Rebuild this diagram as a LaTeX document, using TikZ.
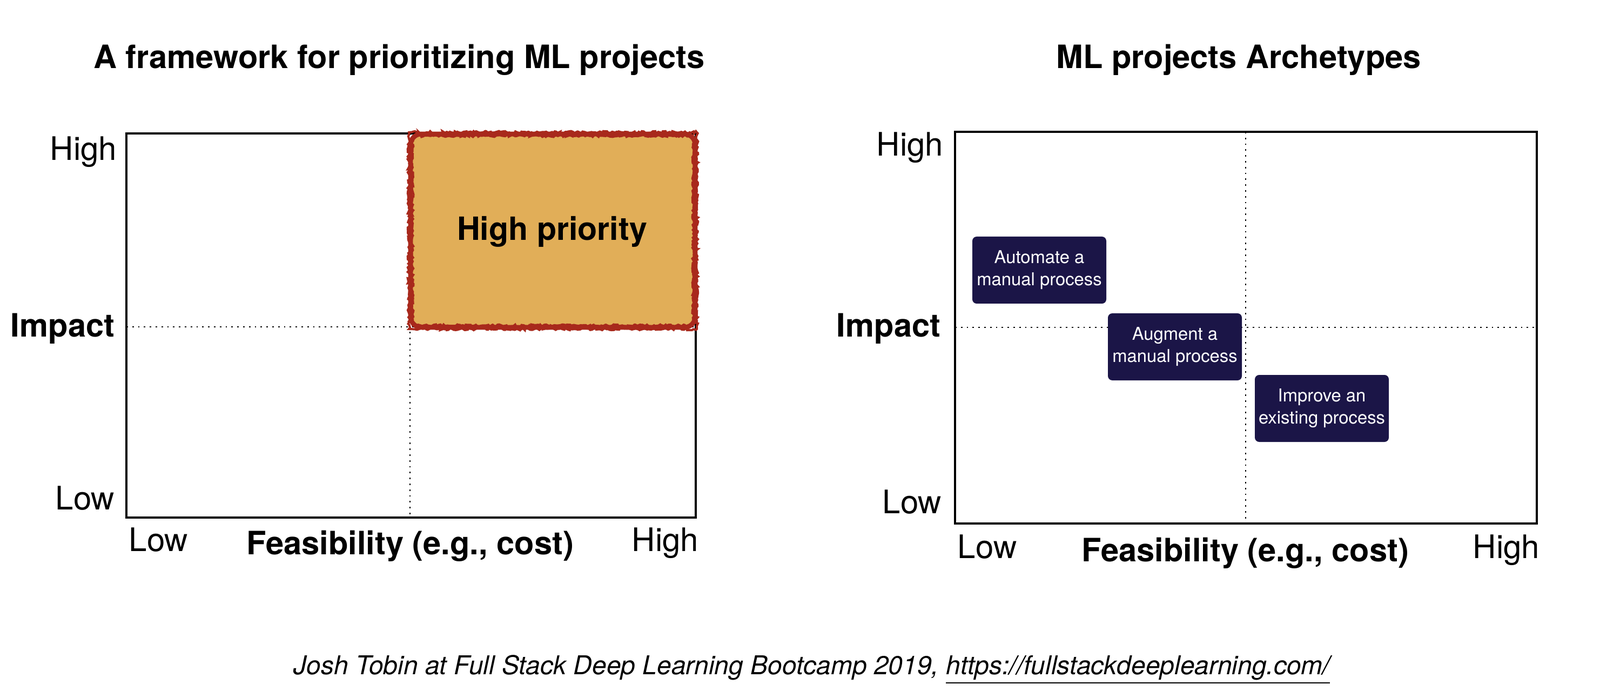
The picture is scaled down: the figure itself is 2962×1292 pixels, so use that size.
\documentclass[tikz,border=0pt]{standalone}
\usepackage{fontspec}
\setmainfont{TeX Gyre Heros}
\usetikzlibrary{decorations.pathmorphing}
\definecolor{prioFill}{HTML}{E1AE58}
\definecolor{prioEdge}{HTML}{A8291C}
\definecolor{archNavy}{HTML}{1B1547}

\begin{document}
\begin{tikzpicture}[x=0.25pt, y=0.25pt, yscale=-1, xscale=1,
  frame/.style={line width=0.8pt},
  split/.style={line width=0.7pt, dotted},
  ttl/.style={font=\bfseries\fontsize{14.9}{17}\selectfont, inner sep=0pt},
  tick/.style={font=\fontsize{15}{17}\selectfont, inner sep=0pt},
  axlab/.style={font=\bfseries\fontsize{14.9}{17}\selectfont, inner sep=0pt},
  archbox/.style={fill=archNavy, rounded corners=2pt, text=white, align=center,
    font=\fontsize{8.2}{10.2}\selectfont, minimum width=62pt, minimum height=31pt, inner sep=0pt}]
\useasboundingbox (0,0) rectangle (2962,1292);

%Left chart
\draw [frame] (234,247) rectangle (1288,958);
\draw [split] (234,605) -- (1288,605);
\draw [split] (759,247) -- (759,958);
\fill [prioFill, rounded corners=5pt] (759,247) rectangle (1288,607);
\draw [prioEdge, line width=2.2pt, rounded corners=5pt] (760,248) rectangle (1287,606);
\draw [prioEdge, line width=1pt, decorate, decoration={random steps, segment length=0.8pt, amplitude=0.6pt}]
  (757,245) -- (1290,245) -- (1290,609) -- (757,609) -- cycle;
\draw [prioEdge, line width=0.8pt, decorate, decoration={random steps, segment length=0.8pt, amplitude=0.5pt}]
  (764,252) -- (1283,252) -- (1283,602) -- (764,602) -- cycle;
\node [font=\bfseries\fontsize{14.8}{17}\selectfont, inner sep=0pt] (prio) at (1022,429) {High priority};

%Text
\node [ttl, anchor=base] (ttlA) at (739,127) {A framework for prioritizing ML projects};
\node [tick, anchor=base east] (hiA) at (217,297) {High};
\node [axlab, anchor=base east] (impA) at (213,624) {Impact};
\node [tick, anchor=base east] (loA) at (213,943) {Low};
\node [tick, anchor=base west] (loFA) at (238,1020) {Low};
\node [axlab, anchor=base] (feasA) at (759,1026) {Feasibility (e.g., cost)};
\node [tick, anchor=base east] (hiFA) at (1294,1020) {High};

%Right chart
\draw [frame] (1768,244) rectangle (2845,969);
\draw [split] (1768,606) -- (2845,606);
\draw [split] (2306,244) -- (2306,969);
\node [archbox] (automate) at (1924,500) {Automate a\\manual process};
\node [archbox] (augment) at (2175,642) {Augment a\\manual process};
\node [archbox] (improve) at (2447,756) {Improve an\\existing process};

%Text
\node [ttl, anchor=base] (ttlB) at (2293,127) {ML projects Archetypes};
\node [tick, anchor=base east] (hiB) at (1747,289) {High};
\node [axlab, anchor=base east] (impB) at (1742,624) {Impact};
\node [tick, anchor=base east] (loB) at (1744,950) {Low};
\node [tick, anchor=base west] (loFB) at (1772,1033) {Low};
\node [axlab, anchor=base] (feasB) at (2305,1039) {Feasibility (e.g., cost)};
\node [tick, anchor=base east] (hiFB) at (2851,1033) {High};

\node [font=\itshape\fontsize{12}{14}\selectfont, inner sep=0pt, anchor=base] (credit) at (1503,1248)
  {Josh Tobin at Full Stack Deep Learning Bootcamp 2019, \underline{https://fullstackdeeplearning.com/}};
\end{tikzpicture}
\end{document}
